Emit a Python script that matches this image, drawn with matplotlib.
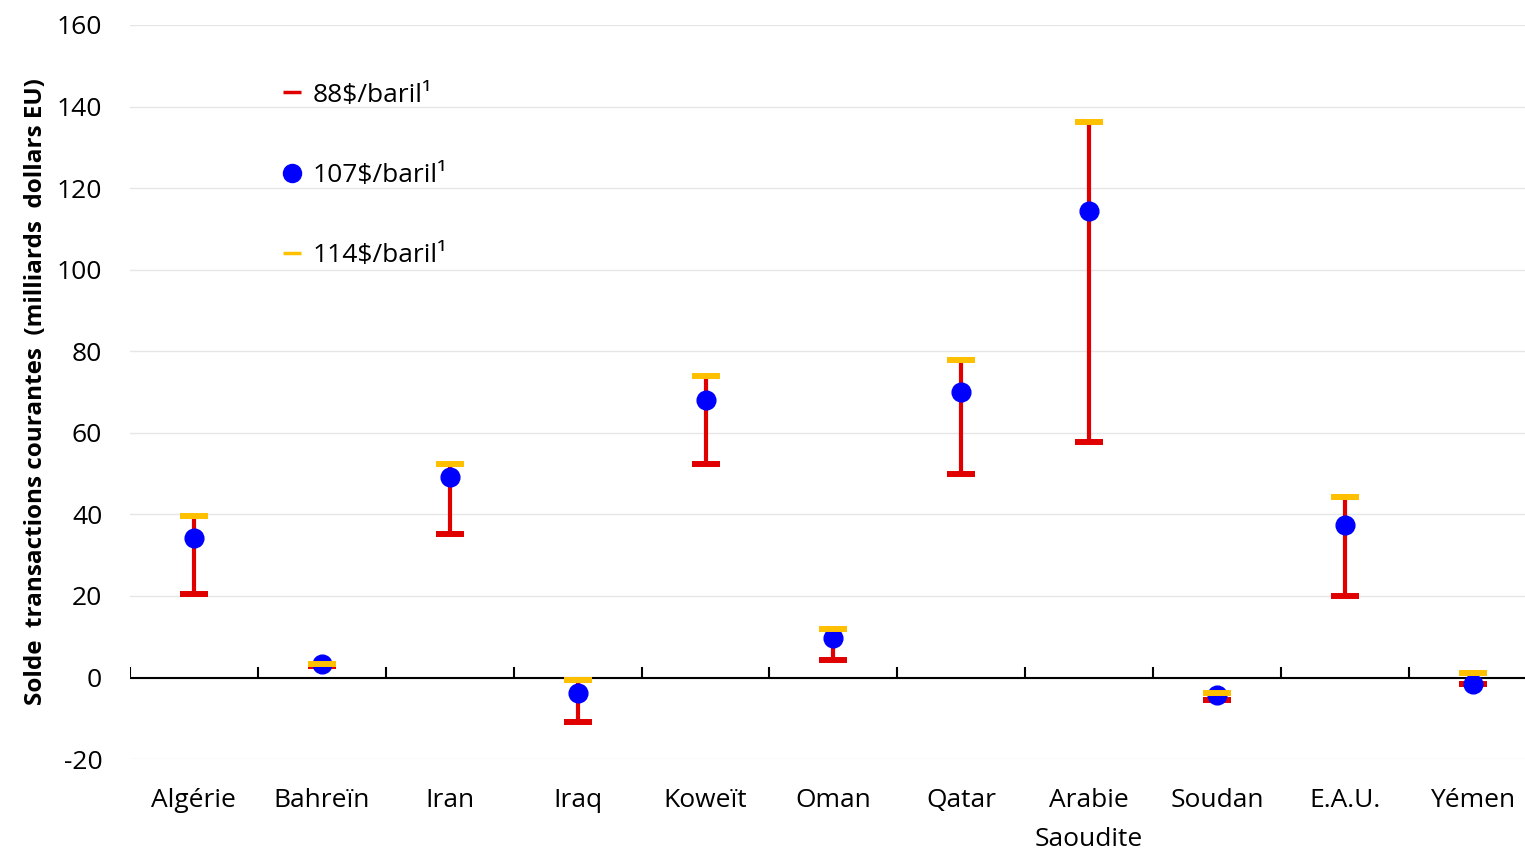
import matplotlib.pyplot as plt
from matplotlib.lines import Line2D

plt.rcParams['font.family'] = ['Open Sans', 'DejaVu Sans']
plt.rcParams['axes.unicode_minus'] = False

# Data (current account balance, bn USD)
countries = ['Algérie', 'Bahreïn', 'Iran', 'Iraq', 'Koweït', 'Oman', 'Qatar',
             'Arabie\nSaoudite', 'Soudan', 'E.A.U.', 'Yémen']
price_88 = [20.4, 2.9, 35.1, -11.0, 52.3, 4.2, 49.8, 57.7, -5.6, 20.1, -1.5]
price_107 = [34.1, 3.4, 49.1, -3.7, 68.0, 9.6, 69.9, 114.4, -4.2, 37.5, -1.5]
price_114 = [39.5, 3.4, 52.3, -0.5, 73.9, 11.8, 77.8, 136.2, -3.7, 44.2, 1.2]

red = '#E00000'
blue = '#0000FF'
yellow = '#FFC000'

fig = plt.figure(figsize=(15.25, 8.52), dpi=100)
ax = fig.add_axes([0.0852, 0.109, 0.9226, 0.8617])

x = list(range(len(countries)))

# vertical range line
ax.vlines(x, price_88, price_114, color=red, linewidth=3, zorder=3)
# caps and points
ax.plot(x, price_88, linestyle='none', marker='_', markersize=19.5,
        markeredgewidth=4.3, color=red, zorder=4)
ax.plot(x, price_107, linestyle='none', marker='o', markersize=13.5,
        color=blue, zorder=5)
ax.plot(x, price_114, linestyle='none', marker='_', markersize=19.5,
        markeredgewidth=4.3, color=yellow, zorder=6)

# axis line at zero with category separators
ax.axhline(0, color='black', linewidth=1.5, zorder=2)
ax.vlines([i - 0.5 for i in range(len(countries) + 1)], 0, 2.5,
          color='black', linewidth=1.5, zorder=2)

ax.set_xlim(-0.5, len(countries) - 0.5)
ax.set_ylim(-20, 160)
ax.set_yticks(range(-20, 161, 20))
ax.set_xticks(x)
ax.set_xticklabels(countries, fontsize=19, linespacing=1.7)
ax.tick_params(axis='x', length=0, pad=21)
ax.tick_params(axis='y', length=0, pad=20, labelsize=19)
for lbl in ax.get_yticklabels():
    lbl.set_horizontalalignment('right')

ax.grid(axis='y', color='#E6E6E6', linewidth=1)
ax.set_axisbelow(True)
for side in ['left', 'right', 'top', 'bottom']:
    ax.spines[side].set_visible(False)

ax.set_ylabel('Solde  transactions courantes  (milliards  dollars EU)',
              fontsize=17.5, fontweight='bold', labelpad=6)

handles = [
    Line2D([], [], linestyle='none', marker='_', markersize=13,
           markeredgewidth=2.5, color=red),
    Line2D([], [], linestyle='none', marker='o', markersize=13, color=blue),
    Line2D([], [], linestyle='none', marker='_', markersize=13,
           markeredgewidth=2.5, color=yellow),
]
labels = ['88$/baril¹', '107$/baril¹', '114$/baril¹']
ax.legend(handles, labels, loc='upper left', bbox_to_anchor=(0.1, 0.936),
          frameon=False, fontsize=19, labelspacing=2.1, handlelength=0.8,
          handletextpad=0.4, borderaxespad=0)

fig.savefig('out.png', dpi=100)
